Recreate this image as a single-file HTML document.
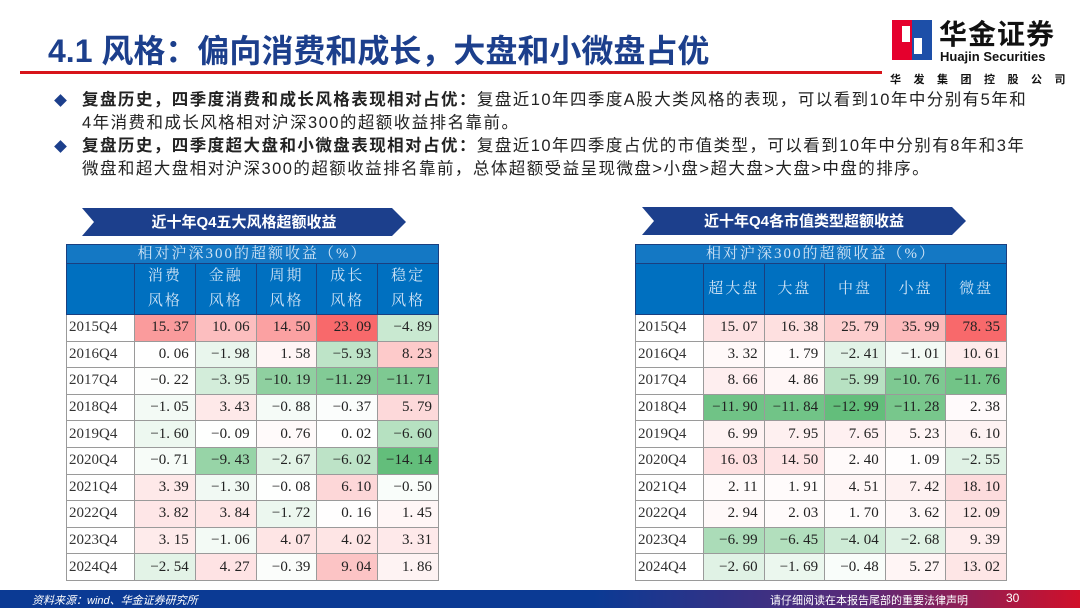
<!DOCTYPE html>
<html><head><meta charset="utf-8">
<style>
*{margin:0;padding:0;box-sizing:border-box}
body{width:1080px;height:608px;overflow:hidden;background:#fff;position:relative;font-family:"Liberation Sans","Noto Sans CJK SC",sans-serif}
.abs{position:absolute}
#title{left:48px;top:32px;font-size:32px;line-height:38px;font-weight:bold;color:#1c3f8c;white-space:nowrap}
#redline{left:20px;top:71px;width:862px;height:3px;background:#d7141a}
.bul{left:82px;font-size:16.5px;color:#222;line-height:23px;white-space:nowrap;letter-spacing:1.45px}
.bul b{font-weight:bold}
.dia{left:56px;width:9px;height:9px;background:#1c3f8c;transform:rotate(45deg)}
table{position:absolute;border-collapse:collapse;table-layout:fixed;font-family:"Liberation Serif","Noto Serif CJK SC",serif;font-size:15px}
td{border:1px solid #9a9a9a;height:26.6px;padding:0 6px;text-align:right;color:#222;white-space:nowrap;overflow:hidden}
td.y{text-align:left;padding-left:2px;color:#333}
th{background:#0070c0;color:#cfe3f5;font-weight:normal;border:1px solid #1a3f80;font-size:15px;letter-spacing:2px;text-align:center}
#footer{left:0;top:590px;width:1080px;height:18px;background:linear-gradient(90deg,#0b3a94 0%,#0b3a94 55%,#5b2a78 80%,#d0102a 100%)}
</style></head><body>
<div class="abs" id="title">4.1 风格：偏向消费和成长，大盘和小微盘占优</div>
<div class="abs" id="redline"></div>
<div class="abs" style="left:892px;top:20px;width:40px;height:40px;">
 <svg width="40" height="40"><rect x="0" y="0" width="20" height="40" fill="#e5002d"/><rect x="20" y="0" width="20" height="40" fill="#1d4fa8"/><rect x="10" y="6" width="8" height="16" fill="#fff"/><rect x="22" y="18" width="8" height="16" fill="#fff"/></svg>
</div>
<div class="abs" style="left:939px;top:21px;font-size:28px;line-height:28px;font-weight:bold;color:#111;letter-spacing:1px">华金证券</div>
<div class="abs" style="left:940px;top:50px;font-size:13px;line-height:13px;font-weight:bold;color:#111">Huajin Securities</div>
<div class="abs" style="left:890px;top:74px;font-size:11px;line-height:12px;font-weight:bold;color:#111;letter-spacing:12.5px">华发集团控股公司</div>

<div class="abs dia" style="top:96px"></div>
<div class="abs bul" style="top:89px"><b>复盘历史，四季度消费和成长风格表现相对占优：</b>复盘近10年四季度A股大类风格的表现，可以看到10年中分别有5年和<br>4年消费和成长风格相对沪深300的超额收益排名靠前。</div>
<div class="abs dia" style="top:142px"></div>
<div class="abs bul" style="top:135px"><b>复盘历史，四季度超大盘和小微盘表现相对占优：</b>复盘近10年四季度占优的市值类型，可以看到10年中分别有8年和3年<br>微盘和超大盘相对沪深300的超额收益排名靠前，总体超额受益呈现微盘&gt;小盘&gt;超大盘&gt;大盘&gt;中盘的排序。</div>

<svg class="abs" style="left:82px;top:208px" width="324" height="28"><polygon points="0,0 310,0 324,14 310,28 0,28 12,14" fill="#1c3f8c"/><text x="162" y="19" fill="#fff" font-size="15" font-weight="bold" text-anchor="middle" font-family="Liberation Sans,Noto Sans CJK SC,sans-serif">近十年Q4五大风格超额收益</text></svg>
<svg class="abs" style="left:642px;top:207px" width="324" height="28"><polygon points="0,0 310,0 324,14 310,28 0,28 12,14" fill="#1c3f8c"/><text x="162" y="19" fill="#fff" font-size="15" font-weight="bold" text-anchor="middle" font-family="Liberation Sans,Noto Sans CJK SC,sans-serif">近十年Q4各市值类型超额收益</text></svg>

<table id="t1" style="left:66px;top:244px;width:372px"></table>
<table id="t2" style="left:635px;top:244px;width:371px"></table>

<div class="abs" id="footer"></div>
<div class="abs" style="left:32px;top:592px;font-size:11px;color:#fff;font-style:italic">资料来源：wind、华金证券研究所</div>
<div class="abs" style="left:770px;top:592px;font-size:11px;color:#fff">请仔细阅读在本报告尾部的重要法律声明</div>
<div class="abs" style="left:1006px;top:591px;font-size:12px;color:#fff">30</div>

<script>
const years=["2015Q4","2016Q4","2017Q4","2018Q4","2019Q4","2020Q4","2021Q4","2022Q4","2023Q4","2024Q4"];
const styleCats=["消费<br>风格","金融<br>风格","周期<br>风格","成长<br>风格","稳定<br>风格"];
const consumer=[15.37,0.06,-0.22,-1.05,-1.60,-0.71,3.39,3.82,3.15,-2.54];
const finance=[10.06,-1.98,-3.95,3.43,-0.09,-9.43,-1.30,3.84,-1.06,4.27];
const cyclical=[14.50,1.58,-10.19,-0.88,0.76,-2.67,-0.08,-1.72,4.07,-0.39];
const growth=[23.09,-5.93,-11.29,-0.37,0.02,-6.02,6.10,0.16,4.02,9.04];
const stable=[-4.89,8.23,-11.71,5.79,-6.60,-14.14,-0.50,1.45,3.31,1.86];
const sizeCats=["超大盘","大盘","中盘","小盘","微盘"];
const megaCap=[15.07,3.32,8.66,-11.90,6.99,16.03,2.11,2.94,-6.99,-2.60];
const largeCap=[16.38,1.79,4.86,-11.84,7.95,14.50,1.91,2.03,-6.45,-1.69];
const midCap=[25.79,-2.41,-5.99,-12.99,7.65,2.40,4.51,1.70,-4.04,-0.48];
const smallCap=[35.99,-1.01,-10.76,-11.28,5.23,1.09,7.42,3.62,-2.68,5.27];
const microCap=[78.35,10.61,-11.76,2.38,6.10,-2.55,18.10,12.09,9.39,13.02];

function mix(a,b,t){return a.map((v,i)=>Math.round(v+(b[i]-v)*t));}
function color(v,mn,mx){
  const w=[255,255,255];
  if(v>=0){const c=mix(w,[248,105,107],v/mx);return `rgb(${c})`;}
  const c=mix(w,[99,190,123],v/mn);return `rgb(${c})`;
}
function build(id,cats,series,hdrName,firstW){
  const t=document.getElementById(id);
  const all=series.flat();const mn=Math.min(...all),mx=Math.max(...all);
  const cw=(parseFloat(t.style.width)-firstW)/5;
  let h=`<colgroup><col style="width:${firstW}px">`+cats.map(()=>`<col style="width:${cw}px">`).join('')+`</colgroup>`;
  h+=`<tr><th colspan="6" style="height:19px;line-height:17px;background:#1478c4">相对沪深300的超额收益（%）</th></tr>`;
  h+=`<tr><th style="height:51px"></th>`;
  cats.forEach(c=>{h+=`<th style="line-height:25px">${c}</th>`;});
  h+=`</tr>`;
  t.innerHTML=h;
  years.forEach((y,i)=>{
    const tr=document.createElement('tr');
    
    
    const td=document.createElement('td');td.className='y';td.textContent=y;
    
    
    tr.appendChild(td);
    series.forEach((s,j)=>{
      const c=document.createElement('td');
      c.textContent=s[i].toFixed(2).replace('.','. ').replace('-','−');
      c.style.background=color(s[i],mn,mx);
      
      
      tr.appendChild(c);
    });
    t.appendChild(tr);
  });
}
build('t1',styleCats,[consumer,finance,cyclical,growth,stable],'left-table-header',68);
build('t2',sizeCats,[megaCap,largeCap,midCap,smallCap,microCap],'right-table-header',68);
</script>
</body></html>
